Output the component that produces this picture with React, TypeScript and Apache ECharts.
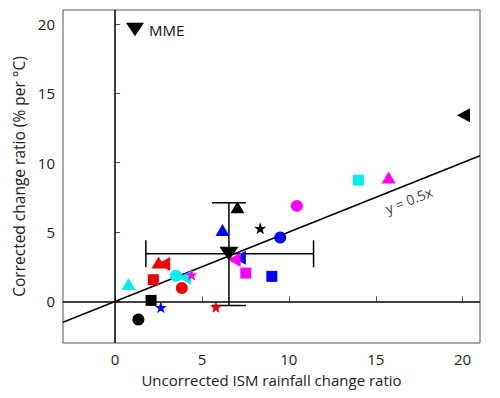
import React, { useEffect, useRef } from "react";
import * as echarts from "echarts";

const xTicks = [0, 5, 10, 15, 20];
const yTicks = [0, 5, 10, 15, 20];
const xRange = [-3, 21];
const yRange = [-3, 21];

const modelX = [0.77, 2.2, 2.5, 2.8, 3.5, 4.0, 4.4, 3.84, 2.07, 2.63, 1.34, 5.8, 6.18, 7.04, 8.35, 7.15, 6.85, 7.52, 9.02, 9.5, 10.46, 14.0, 15.74, 20.05];
const modelY = [1.25, 1.56, 2.8, 2.7, 1.85, 1.7, 1.92, 0.96, 0.07, -0.43, -1.31, -0.4, 5.15, 6.78, 5.27, 3.15, 3.0, 2.04, 1.8, 4.6, 6.88, 8.74, 8.93, 13.41];
const modelShape = ["triangle", "square", "triangle", "left", "circle", "left", "star", "circle", "square", "star", "circle", "star", "triangle", "triangle", "star", "left", "left", "square", "square", "circle", "circle", "square", "triangle", "left"];
const modelColor = ["cyan", "red", "red", "red", "cyan", "cyan", "magenta", "red", "black", "blue", "black", "red", "blue", "black", "black", "blue", "magenta", "magenta", "blue", "blue", "magenta", "cyan", "magenta", "black"];

const mmeX = 6.55;
const mmeY = 3.43;
const mmeXRange = [1.77, 11.42];
const mmeYRange = [-0.29, 7.11];

const slope = 0.5;
const slopeLabelPos = [16.9, 7.3];

const palette: Record<string, string> = {
  cyan: "#00f0f0",
  red: "#f00000",
  magenta: "#ff00ff",
  blue: "#0000ff",
  black: "#000000",
};

const STAR = "path://M50,0 L61.8,35.1 L97.6,34.5 L69,56.7 L79.4,90.5 L50,70 L20.6,90.5 L31,56.7 L2.4,34.5 L38.2,35.1 Z";
const DOWN = "path://M0,0 L20,0 L10,15 Z";
const LEFT = "path://M14,0 L14,14 L0,7 Z";

const shapeSymbol: Record<string, { symbol: string; size: number[] }> = {
  triangle: { symbol: "triangle", size: [14, 12] },
  square: { symbol: "rect", size: [11, 11] },
  circle: { symbol: "circle", size: [12, 12] },
  star: { symbol: STAR, size: [12, 12] },
  left: { symbol: LEFT, size: [13, 14] },
};

const FONT = "'Open Sans', 'Noto Sans', sans-serif";

export default function App() {
  const ref = useRef<HTMLDivElement>(null);
  useEffect(() => {
    if (!ref.current) return;
    const chart = echarts.init(ref.current, null, { renderer: "svg" });
    const modelData = modelX.map((x, i) => {
      const s = shapeSymbol[modelShape[i]];
      return {
        value: [x, modelY[i]],
        symbol: s.symbol,
        symbolSize: s.size,
        itemStyle: { color: palette[modelColor[i]], opacity: 1 },
      };
    });
    const option: any = {
      animation: false,
      textStyle: { fontFamily: FONT },
      grid: { left: 63, top: 10, right: 20, bottom: 55, show: true, borderColor: "#555", borderWidth: 1 },
      legend: {
        data: [{ name: "MME", icon: DOWN }],
        left: 126,
        top: 22,
        padding: 0,
        itemWidth: 18,
        itemHeight: 14,
        itemGap: 4,
        textStyle: { fontSize: 15, color: "#111", fontFamily: FONT },
      },
      xAxis: {
        type: "value",
        min: xRange[0],
        max: xRange[1],
        splitLine: { show: false },
        axisLine: { show: false },
        axisTick: { inside: true, length: 5, customValues: xTicks, lineStyle: { color: "#555" } },
        axisLabel: { customValues: xTicks, fontSize: 15, color: "#222", margin: 8, fontFamily: FONT },
        name: "Uncorrected ISM rainfall change ratio",
        nameLocation: "middle",
        nameGap: 29,
        nameTextStyle: { fontSize: 15, color: "#222", fontFamily: FONT },
      },
      yAxis: {
        type: "value",
        min: yRange[0],
        max: yRange[1],
        splitLine: { show: false },
        axisLine: { show: false },
        axisTick: { inside: true, length: 5, customValues: yTicks, lineStyle: { color: "#555" } },
        axisLabel: { customValues: yTicks, fontSize: 15, color: "#222", margin: 8, fontFamily: FONT },
        name: "Corrected change ratio (% per °C)",
        nameLocation: "middle",
        nameGap: 31,
        nameTextStyle: { fontSize: 15.5, color: "#222", fontFamily: FONT },
      },
      series: [
        {
          type: "line",
          data: [
            [xRange[0], slope * xRange[0]],
            [xRange[1], slope * xRange[1]],
          ],
          symbol: "none",
          lineStyle: { color: "#000", width: 1.5 },
          silent: true,
          z: 2,
          markLine: {
            symbol: "none",
            silent: true,
            label: { show: false },
            lineStyle: { color: "#000", width: 1.5, type: "solid" },
            data: [{ xAxis: 0 }, { yAxis: 0 }],
          },
        },
        {
          type: "scatter",
          data: [slopeLabelPos],
          symbolSize: 0,
          silent: true,
          label: {
            show: true,
            position: "inside",
            formatter: "y = 0.5x",
            rotate: 21.8,
            fontSize: 14,
            color: "#000",
            fontFamily: FONT,
          },
          z: 3,
        },
        {
          type: "custom",
          data: [[mmeX, mmeY, mmeXRange[0], mmeXRange[1], mmeYRange[0], mmeYRange[1]]],
          encode: { x: [0, 2, 3], y: [1, 4, 5] },
          z: 3,
          renderItem: (params: any, api: any) => {
            const x = api.value(0);
            const y = api.value(1);
            const left = api.coord([api.value(2), y]);
            const right = api.coord([api.value(3), y]);
            const bot = api.coord([x, api.value(4)]);
            const top = api.coord([x, api.value(5)]);
            const hc = 13.5;
            const vc = 17;
            const st = { stroke: "#000", lineWidth: 1.5 };
            const ln = (x1: number, y1: number, x2: number, y2: number) => ({
              type: "line",
              shape: { x1, y1, x2, y2 },
              style: st,
            });
            return {
              type: "group",
              children: [
                ln(left[0], left[1], right[0], right[1]),
                ln(left[0], left[1] - hc, left[0], left[1] + hc),
                ln(right[0], right[1] - hc, right[0], right[1] + hc),
                ln(bot[0], bot[1], top[0], top[1]),
                ln(top[0] - vc, top[1], top[0] + vc, top[1]),
                ln(bot[0] - vc, bot[1], bot[0] + vc, bot[1]),
              ],
            };
          },
        },
        {
          type: "scatter",
          name: "models",
          data: modelData,
          z: 4,
        },
        {
          type: "scatter",
          name: "MME",
          data: [[mmeX, mmeY]],
          symbol: DOWN,
          symbolSize: [19, 14],
          itemStyle: { color: "#000", opacity: 1 },
          z: 5,
        },
      ],
    };
    chart.setOption(option);
    return () => chart.dispose();
  }, []);
  return <div ref={ref} style={{ width: 500, height: 398, position: "absolute", left: 0, top: 0 }} />;
}
